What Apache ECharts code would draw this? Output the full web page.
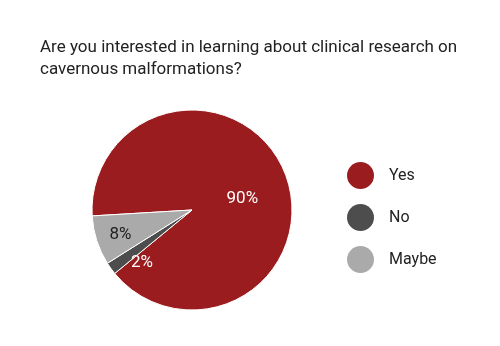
<!DOCTYPE html>
<html>
<head>
<meta charset="utf-8">
<script src="https://cdn.jsdelivr.net/npm/echarts@6/dist/echarts.min.js"></script>
<style>
  html, body { margin: 0; padding: 0; background: #ffffff; }
  #chart { width: 500px; height: 346px; }
</style>
</head>
<body>
<div id="chart"></div>
<script>
// Survey answers and their shares (percent)
const categories = ['Yes', 'No', 'Maybe'];
const shares = [90, 2, 8];
const sliceColors = ['#9b1c1f', '#4d4d4d', '#aaaaaa'];
const labelColors = ['#ffffff', '#ffffff', '#222222'];
// Per-slice nudges for the percent labels
const labelNudges = [[1, 8], [-7, 22], [-21, 9]];

const chart = echarts.init(document.getElementById('chart'), null, { renderer: 'canvas' });

chart.setOption({
  animation: false,
  backgroundColor: '#ffffff',
  title: {
    text: 'Are you interested in learning about clinical research on\ncavernous malformations?',
    left: 40,
    top: 37,
    padding: 0,
    textStyle: {
      fontFamily: 'Roboto',
      fontSize: 17,
      fontWeight: 'normal',
      lineHeight: 22,
      color: '#222222'
    }
  },
  legend: {
    orient: 'vertical',
    left: 347,
    top: 162,
    padding: 0,
    icon: 'circle',
    itemWidth: 27,
    itemHeight: 27,
    itemGap: 15,
    itemStyle: { borderWidth: 0 },
    selectedMode: false,
    data: categories,
    textStyle: {
      fontFamily: 'Roboto',
      fontSize: 16,
      color: '#222222',
      padding: [0, 0, 0, 10]
    }
  },
  series: [{
    type: 'pie',
    center: [192, 210],
    radius: [0, 100],
    startAngle: 183.4,
    clockwise: true,
    silent: true,
    itemStyle: { borderColor: '#ffffff', borderWidth: 1 },
    label: {
      show: true,
      position: 'inside',
      formatter: '{c}%',
      fontFamily: 'Roboto',
      fontSize: 17
    },
    labelLine: { show: false },
    labelLayout: function (params) {
      const n = labelNudges[params.dataIndex];
      return { dx: n[0], dy: n[1] };
    },
    data: categories.map(function (name, i) {
      return {
        name: name,
        value: shares[i],
        itemStyle: { color: sliceColors[i] },
        label: { color: labelColors[i] }
      };
    })
  }]
});
</script>
</body>
</html>
